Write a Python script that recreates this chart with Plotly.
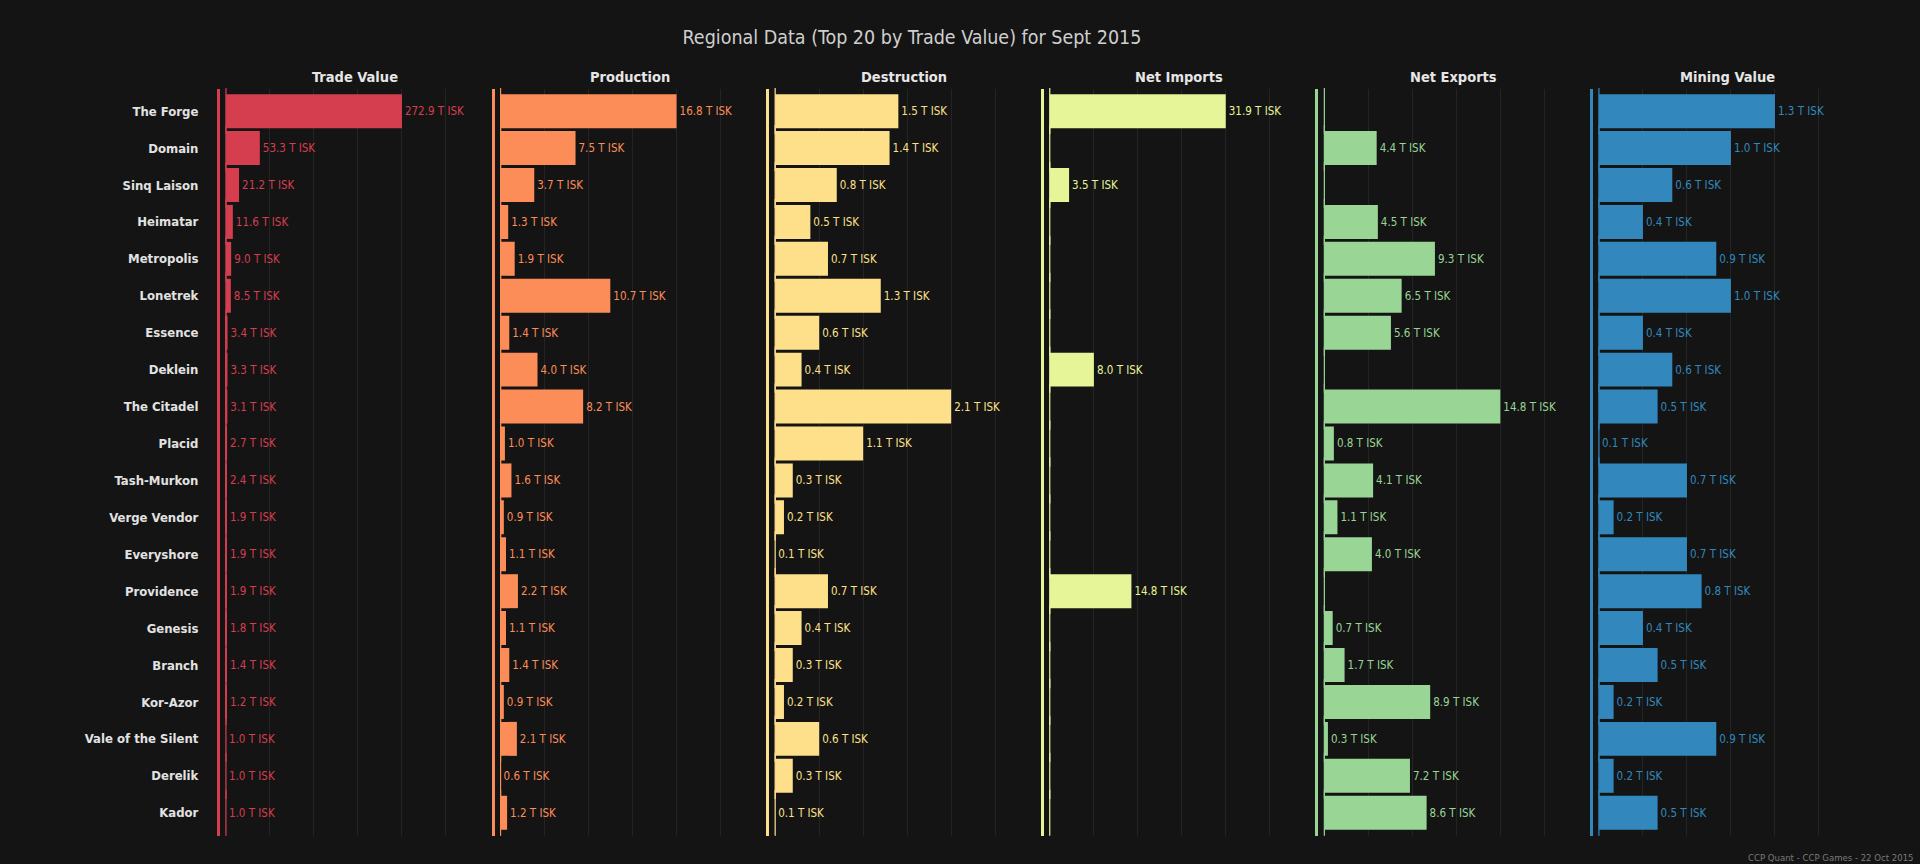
import plotly.graph_objects as go

regions = ["The Forge", "Domain", "Sinq Laison", "Heimatar", "Metropolis", "Lonetrek",
           "Essence", "Deklein", "The Citadel", "Placid", "Tash-Murkon", "Verge Vendor",
           "Everyshore", "Providence", "Genesis", "Branch", "Kor-Azor",
           "Vale of the Silent", "Derelik", "Kador"]

trade_value = [272.9, 53.3, 21.2, 11.6, 9.0, 8.5, 3.4, 3.3, 3.1, 2.7, 2.4, 1.9, 1.9, 1.9, 1.8, 1.4, 1.2, 1.0, 1.0, 1.0]
production = [16.8, 7.5, 3.7, 1.3, 1.9, 10.7, 1.4, 4.0, 8.2, 1.0, 1.6, 0.9, 1.1, 2.2, 1.1, 1.4, 0.9, 2.1, 0.6, 1.2]
destruction = [1.5, 1.4, 0.8, 0.5, 0.7, 1.3, 0.6, 0.4, 2.1, 1.1, 0.3, 0.2, 0.1, 0.7, 0.4, 0.3, 0.2, 0.6, 0.3, 0.1]
net_imports = [31.9, 0, 3.5, 0, 0, 0, 0, 8.0, 0, 0, 0, 0, 0, 14.8, 0, 0, 0, 0, 0, 0]
net_exports = [0, 4.4, 0, 4.5, 9.3, 6.5, 5.6, 0, 14.8, 0.8, 4.1, 1.1, 4.0, 0, 0.7, 1.7, 8.9, 0.3, 7.2, 8.6]
mining_value = [1.3, 1.0, 0.6, 0.4, 0.9, 1.0, 0.4, 0.6, 0.5, 0.1, 0.7, 0.2, 0.7, 0.8, 0.4, 0.5, 0.2, 0.9, 0.2, 0.5]

panel_titles = ["Trade Value", "Production", "Destruction", "Net Imports", "Net Exports", "Mining Value"]
panel_values = [trade_value, production, destruction, net_imports, net_exports, mining_value]
panel_colors = ["#d53e4f", "#fc8d59", "#fee08b", "#e6f598", "#99d594", "#3288bd"]

title_text = "Regional Data (Top 20 by Trade Value) for Sept 2015"
footer_text = "CCP Quant - CCP Games - 22 Oct 2015"

FONT = "DejaVu Sans Condensed, Liberation Sans Narrow, Roboto, sans-serif"
BG = "#141414"
GRID = "#242424"

fig = go.Figure()

step = 0.16713
width = 0.1643
n = len(regions)

for i, (ttl, vals, col) in enumerate(zip(panel_titles, panel_values, panel_colors)):
    xa = "x" if i == 0 else f"x{i+1}"
    ya = "y" if i == 0 else f"y{i+1}"
    vmin, vmax = min(vals), max(vals)
    # each column is rescaled between its own min and max (as in the reference)
    scaled = [(v - vmin) / (vmax - vmin) for v in vals]
    texts = [f"{v:.1f} T ISK" if v > 0 else "" for v in vals]
    fig.add_trace(go.Bar(
        x=scaled, y=regions, orientation="h", xaxis=xa, yaxis=ya,
        marker=dict(color=col, line=dict(width=0)),
        text=texts, textposition="outside", constraintext="none",
        textfont=dict(family=FONT, size=11.5, color=col),
        cliponaxis=False, showlegend=False,
        customdata=vals, hovertemplate="%{y}: %{customdata:.1f} T ISK<extra></extra>",
    ))
    # bar start tick: makes zero-length bars visible as a thin line
    fig.add_trace(go.Scatter(
        x=[0] * n, y=regions, xaxis=xa, yaxis=ya,
        mode="markers",
        marker=dict(symbol="line-ns", size=33, color=col,
                    line=dict(width=1.2, color=col)),
        showlegend=False, hoverinfo="skip", cliponaxis=False,
    ))
    d0 = i * step
    xkey = "xaxis" if i == 0 else f"xaxis{i+1}"
    ykey = "yaxis" if i == 0 else f"yaxis{i+1}"
    fig.layout[xkey] = dict(
        domain=[d0, min(d0 + width, 1.0)], anchor=ya,
        range=[-0.034, 1.5],
        tick0=0, dtick=0.25, showticklabels=False,
        showgrid=True, gridcolor=GRID, gridwidth=1, zeroline=False,
        showline=False, fixedrange=True,
    )
    fig.layout[ykey] = dict(
        anchor=xa, type="category", categoryorder="array", categoryarray=regions,
        range=[n - 1 + 0.63, -0.6],
        showgrid=False, zeroline=False,
        showline=True, linecolor=col, linewidth=3,
        showticklabels=(i == 0),
        ticks="outside" if i == 0 else "", ticklen=16, tickcolor="rgba(0,0,0,0)",
        tickfont=dict(family=FONT, size=13, color="#e2e2e2", weight="bold"),
        fixedrange=True,
    )
    fig.add_annotation(
        text=f"<b>{ttl}</b>", xref=f"{xa} domain", yref="paper",
        x=0.5, y=1.0, xanchor="center", yanchor="bottom", yshift=2.5,
        showarrow=False, font=dict(family=FONT, size=14.5, color="#e6e6e6"),
    )

fig.add_annotation(
    text=footer_text, xref="paper", yref="paper", x=1.0, y=0, xanchor="right",
    yanchor="middle", xshift=53, yshift=-21, showarrow=False,
    font=dict(family=FONT, size=9.5, color="#7a7a7a"),
)

fig.update_layout(
    width=1920, height=864,
    paper_bgcolor=BG, plot_bgcolor=BG,
    margin=dict(l=220, r=57, t=89, b=28),
    bargap=0.08,
    title=dict(text=title_text, x=0.475, xanchor="center", y=0.957, yanchor="middle",
               font=dict(family=FONT, size=19.5, color="#cfcfcf")),
    font=dict(family=FONT, color="#dddddd"),
)

fig.write_html("out.html", config={"displayModeBar": False},
               post_script="document.body.style.margin='0';document.body.style.background='#141414';")
